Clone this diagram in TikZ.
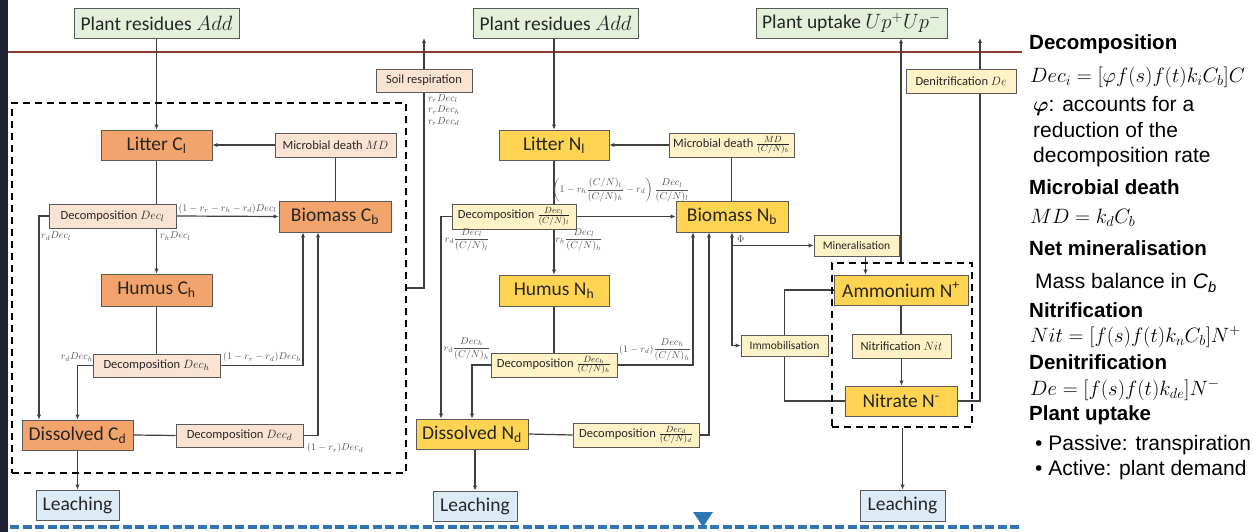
\documentclass[tikz,border=0pt]{standalone}
\usepackage{amsmath}
\usepackage{fontspec}
\setmainfont{Carlito}
\newfontfamily\panelfont{Liberation Sans}
\usetikzlibrary{arrows.meta,calc}
\definecolor{boxline}{HTML}{595959}
\definecolor{flowline}{HTML}{404040}
\definecolor{txt}{HTML}{262626}
\definecolor{lblgray}{HTML}{505050}
\definecolor{cOrange}{HTML}{F2A46C}
\definecolor{cPeach}{HTML}{FBE3D3}
\definecolor{nGold}{HTML}{FFD452}
\definecolor{nCream}{HTML}{FFF2C6}
\definecolor{inGreen}{HTML}{E3F0DA}
\definecolor{leachBlue}{HTML}{DDEBF7}
\definecolor{soilBrown}{HTML}{8B3A2B}
\definecolor{waterBlue}{HTML}{2E75B6}
\definecolor{slateNavy}{HTML}{1E2433}
\pgfdeclarelayer{background}
\pgfsetlayers{background,main}
\tikzset{box/.style={draw=boxline,line width=0.9pt,inner sep=0pt,text=txt,align=center},
    bigbox/.style={box,font=\fontsize{19.5}{22}\selectfont},
    smallbox/.style={box,font=\fontsize{12.5}{14}\selectfont},
    cpool/.style={bigbox,fill=cOrange},
    npool/.style={bigbox,fill=nGold},
    cflux/.style={smallbox,fill=cPeach},
    nflux/.style={smallbox,fill=nCream},
    inbox/.style={bigbox,fill=inGreen},
    leachbox/.style={bigbox,fill=leachBlue},
    dashbox/.style={draw=black,line width=1.8pt,dash pattern=on 7pt off 5pt,inner sep=0pt},
    flow/.style={draw=flowline,line width=1.2pt,-{Latex[length=5pt,width=4.5pt]}},
    link/.style={draw=flowline,line width=1.2pt},
    flowlbl/.style={text=lblgray,font=\fontsize{10}{11.5}\selectfont,inner sep=0pt},
    lgdhead/.style={anchor=west,inner sep=0pt,font=\panelfont\bfseries\fontsize{20.5}{24}\selectfont},
    lgdtext/.style={anchor=west,inner sep=0pt,font=\panelfont\fontsize{21}{24}\selectfont},
    lgdmath/.style={anchor=west,inner sep=0pt,font=\fontsize{21}{24}\selectfont}}

\begin{document}
\begin{tikzpicture}[x=1pt,y=1pt,yscale=-1,xscale=1]
\useasboundingbox (0,0) rectangle (1258,532);
%Shape: Rectangle (left strip)
\fill[slateNavy] (0,0) rectangle (8,532);

% Inputs and outputs at the top
\node[inbox,minimum width=165,minimum height=30] (addC) at (156.5,23) {Plant residues $Add$};
\node[inbox,minimum width=165,minimum height=30] (addN) at (555.5,23) {Plant residues $Add$};
\node[inbox,minimum width=191,minimum height=30] (uptN) at (851.5,23) {Plant uptake $Up^{+}Up^{-}$};

% Carbon part
\node[dashbox,minimum width=394,minimum height=370] (poolC) at (209,288) {};
\node[cpool,minimum width=111,minimum height=30] (litC) at (156.5,145) {Litter C\textsubscript{l}};
\node[cflux,minimum width=121,minimum height=24] (mdC) at (335.5,145) {Microbial death $MD$};
\node[cpool,minimum width=112,minimum height=31] (bioC) at (335,216.5) {Biomass C\textsubscript{b}};
\node[cflux,minimum width=127,minimum height=24] (decLC) at (112.5,216) {Decomposition $Dec_l$};
\node[cpool,minimum width=111,minimum height=32] (humC) at (156.5,290) {Humus C\textsubscript{h}};
\node[cflux,minimum width=127,minimum height=23] (decHC) at (156.5,365.5) {Decomposition $Dec_h$};
\node[cpool,minimum width=111,minimum height=30] (disC) at (77.5,435) {Dissolved C\textsubscript{d}};
\node[cflux,minimum width=127,minimum height=23] (decDC) at (239.5,435.5) {Decomposition $Dec_d$};
\node[leachbox,minimum width=83,minimum height=30] (leachC) at (77.5,505) {Leaching};
\node[cflux,minimum width=96,minimum height=23] (respC) at (424,80.5) {Soil respiration};

% Nitrogen part
\node[dashbox,minimum width=140,minimum height=164] (poolN) at (902,345) {};
\node[npool,minimum width=110,minimum height=30] (litN) at (554,145) {Litter N\textsubscript{l}};
\node[nflux,minimum width=125,minimum height=24] (mdN) at (731.5,145) {Microbial death $\frac{MD}{(C/N)_b}$};
\node[npool,minimum width=112,minimum height=31] (bioN) at (732,216.5) {Biomass N\textsubscript{b}};
\node[nflux,minimum width=124,minimum height=25] (decLN) at (514,216.5) {Decomposition $\frac{Dec_l}{(C/N)_l}$};
\node[npool,minimum width=110,minimum height=31] (humN) at (554,290.5) {Humus N\textsubscript{h}};
\node[nflux,minimum width=126,minimum height=24] (decHN) at (554,365) {Decomposition $\frac{Dec_h}{(C/N)_h}$};
\node[npool,minimum width=112,minimum height=30] (disN) at (472,434) {Dissolved N\textsubscript{d}};
\node[nflux,minimum width=126,minimum height=24] (decDN) at (636,435) {Decomposition $\frac{Dec_d}{(C/N)_d}$};
\node[leachbox,minimum width=84,minimum height=30] (leachN) at (475,506) {Leaching};
\node[nflux,minimum width=85,minimum height=21,font=\fontsize{11.5}{13}\selectfont] (minN) at (856.5,245.5) {Mineralisation};
\node[nflux,minimum width=87,minimum height=21,font=\fontsize{11.5}{13}\selectfont] (immN) at (784.5,345.5) {Immobilisation};
\node[npool,minimum width=134,minimum height=30] (ammN) at (901,290) {Ammonium N\textsuperscript{+}};
\node[nflux,minimum width=99,minimum height=24] (nitrN) at (901.5,346) {Nitrification $Nit$};
\node[npool,minimum width=112,minimum height=30] (nitN) at (901,401) {Nitrate N\textsuperscript{-}};
\node[leachbox,minimum width=85,minimum height=31] (leachR) at (902.5,505.5) {Leaching};
\node[nflux,minimum width=110,minimum height=24] (denN) at (961,81) {Denitrification $De$};

\coordinate (respTop) at (424,38);
\coordinate (denTop) at (980,38);
\coordinate (minDown) at ([xshift=9]minN.south);

\begin{pgfonlayer}{background}
%Straight Lines (soil surface, water table)
\draw[soilBrown,line width=2.6pt] (8,52) -- (1022,52);
\draw[waterBlue,line width=3.4pt,dash pattern=on 9pt off 3.5pt] (10,527) -- (1022,527);
% carbon fluxes
\draw[flow] (addC.south) -- (litC.north);
\draw[flow] (mdC.west) -- (litC.east);
\draw[link] (mdC.south) -- (mdC.south |- bioC.north);
\draw[link] (litC.south) -- (litC.south |- decLC.north);
\draw[flow] (decLC.south -| litC.south) -- (humC.north);
\draw[flow] (decLC.east) -- (bioC.west) node[flowlbl,midway,above=2pt] (lblBC1) {$(1-r_r-r_h-r_d)Dec_l$};
\draw[flow] (decLC.west) -| ($(disC.north)+(-38.5,0)$);
\draw[link] (humC.south) -- (decHC.north);
\draw[flow] (decHC.east) -| ($(bioC.south)+(-32,0)$);
\draw[flow] (decHC.west) -| (disC.north);
\draw[link] (disC.east) -- (decDC.west);
\draw[flow] (decDC.east) -| ($(bioC.south)+(-17,0)$);
\draw[flow] (disC.south) -- (leachC.north);
\draw[flow] (poolC.east) -| (respTop);
% nitrogen fluxes
\draw[flow] (litN.north |- addN.south) -- (litN.north);
\draw[flow] (mdN.west) -- (litN.east);
\draw[link] (mdN.south) -- (mdN.south |- bioN.north);
\draw[link] (litN.south) -- (litN.south |- decLN.north);
\draw[flow] (decLN.south -| litN.south) -- (humN.north);
\draw[flow] (decLN.east) -- (bioN.west);
\draw[flow] (decLN.west) -| ($(disN.north)+(-31,0)$);
\draw[link] (humN.south) -- (decHN.north);
\draw[flow] (decHN.east) -| ($(bioN.south)+(-39,0)$);
\draw[flow] (decHN.west) -| (disN.north);
\draw[link] (disN.east) -- (decDN.west);
\draw[flow] (decDN.east) -| ($(bioN.south)+(-23,0)$);
\draw[flow] (leachN.north |- disN.south) -- (leachN.north);
\draw[flow] (bioN.south |- immN.west) -- (bioN.south);
\draw[flow] (bioN.south |- minN.west) -- (minN.west);
\draw[flow] (bioN.south |- immN.west) -- (immN.west);
\draw[flow] (minDown) -- (minDown |- ammN.north);
\draw[link] (ammN.south) -- (ammN.south |- nitrN.north);
\draw[flow] (nitrN.south) -- (nitrN.south |- nitN.north);
\draw[link] (immN.north) |- (ammN.west);
\draw[link] (immN.south) |- (nitN.west);
\draw[flow] (poolN.north -| ammN.north) -- (ammN.north |- uptN.south);
\draw[flow] (nitN.east) -| (denTop);
\draw[flow] (poolN.south -| leachR.north) -- (leachR.north);
\end{pgfonlayer}

%Shape: Triangle (water table)
\fill[waterBlue] (693,512) -- (713,512) -- (703,527) -- cycle;

% Text Node (flux labels, carbon)
\node[flowlbl,anchor=west] (lblDC1) at (41,236) {$r_dDec_l$};
\node[flowlbl,anchor=west] (lblHC1) at (160,236) {$r_hDec_l$};
\node[flowlbl,anchor=east] (lblDC2) at (93,357) {$r_dDec_h$};
\node[flowlbl,anchor=west] (lblBC2) at (223,357) {$(1-r_r-r_d)Dec_h$};
\node[flowlbl,anchor=west] (lblBC3) at (307,448) {$(1-r_r)Dec_d$};
\node[flowlbl,anchor=north west,align=left] (lblResp) at (428,94) {$r_rDec_l$\\$r_rDec_h$\\$r_rDec_d$};
% Text Node (flux labels, nitrogen)
\node[flowlbl] (lblBN1) at (621,190) {$\left(1-r_h\dfrac{(C/N)_l}{(C/N)_h}-r_d\right)\dfrac{Dec_l}{(C/N)_l}$};
\node[flowlbl] (lblDN1) at (467,240) {$r_d\dfrac{Dec_l}{(C/N)_l}$};
\node[flowlbl] (lblHN1) at (579,240) {$r_h\dfrac{Dec_l}{(C/N)_h}$};
\node[flowlbl] (lblDN2) at (467,349) {$r_d\dfrac{Dec_h}{(C/N)_h}$};
\node[flowlbl] (lblBN2) at (655,350) {$(1-r_d)\dfrac{Dec_h}{(C/N)_h}$};
\node[flowlbl,anchor=west] (lblPhi) at (737,239) {$\Phi$};

% Text Node (legend)
\node[lgdhead] (hDec) at (1029,44) {Decomposition};
\node[lgdmath] (fDec) at (1030,77) {$Dec_i=[\varphi f(s)f(t)k_iC_b]C$};
\node[lgdtext] (tPhi1) at (1033,106) {$\boldsymbol{\varphi}$: accounts for a};
\node[lgdtext] (tPhi2) at (1033,130) {reduction of the};
\node[lgdtext] (tPhi3) at (1033,157) {decomposition rate};
\node[lgdhead] (hMD) at (1029,187) {Microbial death};
\node[lgdmath] (fMD) at (1030,218) {$MD=k_dC_b$};
\node[lgdhead] (hMin) at (1029,248) {Net mineralisation};
\node[lgdtext] (tMin) at (1035,283) {Mass balance in \textit{C}\textsubscript{\textit{b}}};
\node[lgdhead] (hNit) at (1029,310) {Nitrification};
\node[lgdmath] (fNit) at (1030,337) {$Nit=[f(s)f(t)k_nC_b]N^+$};
\node[lgdhead] (hDe) at (1029,362) {Denitrification};
\node[lgdmath] (fDe) at (1030,390) {$De=[f(s)f(t)k_{de}]N^-$};
\node[lgdhead] (hUp) at (1029,415) {Plant uptake};
\node[lgdtext] (tUp1) at (1035,445) {\textbullet\ Passive: transpiration};
\node[lgdtext] (tUp2) at (1035,470) {\textbullet\ Active: plant demand};

\end{tikzpicture}
\end{document}
